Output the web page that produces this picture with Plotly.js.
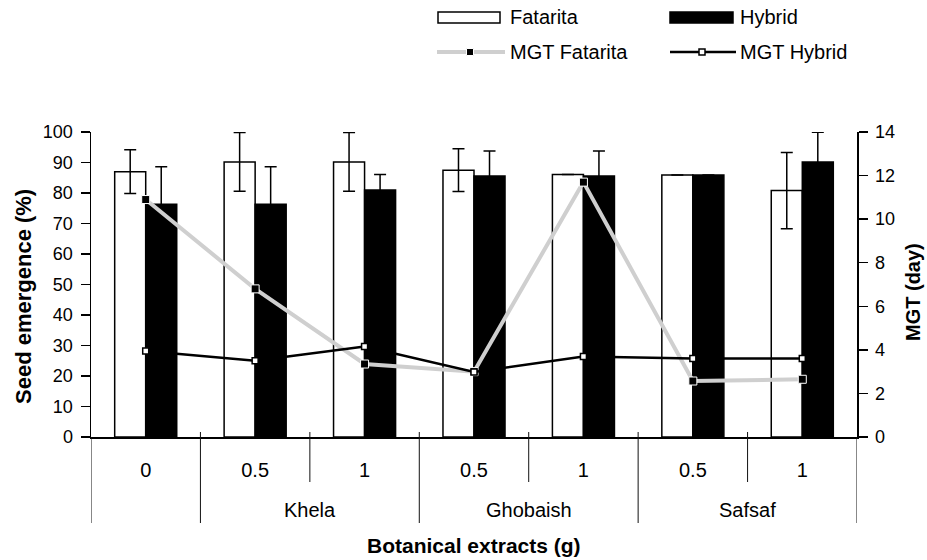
<!DOCTYPE html>
<html><head><meta charset="utf-8">
<script src="https://cdn.plot.ly/plotly-3.0.1.min.js"></script>
<style>html,body{margin:0;padding:0;background:#fff}#chart{width:927px;height:560px}</style>
</head><body><div id="chart"></div>
<script>
// ---- data ----
const positions = [0, 1, 2, 3, 4, 5, 6];
const doseLabels = ['0', '0.5', '1', '0.5', '1', '0.5', '1'];
const extractGroups = ['Khela', 'Ghobaish', 'Safsaf'];
const groupCenters = [1.5, 3.5, 5.5];
const subBoundaries = [1.5, 3.5, 5.5];
const groupBoundaries = [0.5, 2.5, 4.5];
const edgeBoundaries = [-0.5, 6.5];
const fatarita = [87.0, 90.2, 90.2, 87.5, 86.1, 85.9, 80.8];
const fataritaErr = [7.2, 9.6, 9.6, 7.0, 0, 0, 12.5];
const hybrid = [76.3, 76.3, 81.0, 85.6, 85.6, 85.9, 90.2];
const hybridErr = [12.3, 12.3, 5.1, 8.2, 8.2, 0, 9.7];
const mgtFatarita = [10.9, 6.8, 3.35, 3.0, 11.7, 2.57, 2.65];
const mgtHybrid = [3.95, 3.5, 4.15, 2.98, 3.7, 3.6, 3.6];
const yTicksLeft = [0, 10, 20, 30, 40, 50, 60, 70, 80, 90, 100];
const yTicksRight = [0, 2, 4, 6, 8, 10, 12, 14];

const FONT = 'Liberation Sans, Arial, sans-serif';
const L = 91, R = 70, T = 132, B = 123, W = 927, H = 560;
const PW = W - L - R, PH = H - T - B;
const px = v => (v - L) / PW;          // page px -> paper x
const py = v => (H - B - v) / PH;      // page px -> paper y
const MGTF_COLOR = '#cfcfcf';

const traces = [
  {type: 'bar', name: 'Fatarita', x: positions, y: fatarita,
   marker: {color: '#ffffff', line: {color: '#000', width: 1.5}},
   error_y: {type: 'data', array: fataritaErr, visible: true, color: '#000', thickness: 1.5, width: 6}},
  {type: 'bar', name: 'Hybrid', x: positions, y: hybrid,
   marker: {color: '#000000', line: {color: '#000', width: 1.5}},
   error_y: {type: 'data', array: hybridErr, visible: true, color: '#000', thickness: 1.5, width: 6}},
  {type: 'scatter', mode: 'lines+markers', name: 'MGT Fatarita', x: positions, y: mgtFatarita, yaxis: 'y2',
   line: {color: MGTF_COLOR, width: 4},
   marker: {symbol: 'square', size: 8, color: '#000', line: {color: '#fff', width: 1}}},
  {type: 'scatter', mode: 'lines+markers', name: 'MGT Hybrid', x: positions, y: mgtHybrid, yaxis: 'y2',
   line: {color: '#000', width: 2.5},
   marker: {symbol: 'square', size: 6, color: '#fff', line: {color: '#000', width: 1.5}}}
];

const shapes = [];
subBoundaries.forEach(b => shapes.push({type: 'line', xref: 'x', yref: 'paper', x0: b, x1: b,
  y0: py(432), y1: py(482), line: {color: '#111', width: 1}}));
groupBoundaries.forEach(b => shapes.push({type: 'line', xref: 'x', yref: 'paper', x0: b, x1: b,
  y0: py(432), y1: py(523), line: {color: '#111', width: 1}}));
edgeBoundaries.forEach(b => shapes.push({type: 'line', xref: 'x', yref: 'paper', x0: b, x1: b,
  y0: 0, y1: py(523), line: {color: '#111', width: 1}}));

// legend (drawn manually)
shapes.push({type: 'rect', xref: 'paper', yref: 'paper', x0: px(438), x1: px(500), y0: py(23), y1: py(12),
  fillcolor: '#fff', line: {color: '#000', width: 1.5}});
shapes.push({type: 'rect', xref: 'paper', yref: 'paper', x0: px(670), x1: px(733), y0: py(23), y1: py(12),
  fillcolor: '#000', line: {color: '#000', width: 1.5}});
shapes.push({type: 'line', xref: 'paper', yref: 'paper', x0: px(437), x1: px(505), y0: py(52), y1: py(52),
  line: {color: MGTF_COLOR, width: 4}});
shapes.push({type: 'rect', xref: 'paper', yref: 'paper', x0: px(466.5), x1: px(473.5), y0: py(55.5), y1: py(48.5),
  fillcolor: '#000', line: {color: '#fff', width: 1}});
shapes.push({type: 'line', xref: 'paper', yref: 'paper', x0: px(670), x1: px(736), y0: py(52), y1: py(52),
  line: {color: '#000', width: 2.5}});
shapes.push({type: 'rect', xref: 'paper', yref: 'paper', x0: px(699), x1: px(705), y0: py(55), y1: py(49),
  fillcolor: '#fff', line: {color: '#000', width: 1.5}});

const annotations = [];
extractGroups.forEach((g, i) => annotations.push({xref: 'x', yref: 'paper', x: groupCenters[i], y: py(510),
  text: g, showarrow: false, xanchor: 'center', yanchor: 'middle', font: {family: FONT, size: 20, color: '#000'}}));
const legendItems = [['Fatarita', 508, 17], ['Hybrid', 738, 17], ['MGT Fatarita', 508, 52], ['MGT Hybrid', 738, 52]];
legendItems.forEach(([t, x, y]) => annotations.push({xref: 'paper', yref: 'paper', x: px(x), y: py(y), text: t,
  showarrow: false, xanchor: 'left', yanchor: 'middle', font: {family: FONT, size: 20, color: '#000'}}));
annotations.push({xref: 'paper', yref: 'paper', x: 0.5, y: py(545), text: '<b>Botanical extracts (g)</b>',
  showarrow: false, xanchor: 'center', yanchor: 'middle', font: {family: FONT, size: 21, color: '#000'}});
annotations.push({xref: 'paper', yref: 'paper', x: px(23), y: py(297), text: '<b>Seed emergence (%)</b>', textangle: -90,
  showarrow: false, xanchor: 'center', yanchor: 'middle', font: {family: FONT, size: 22, color: '#000'}});
annotations.push({xref: 'paper', yref: 'paper', x: px(913), y: py(292), text: '<b>MGT (day)</b>', textangle: -90,
  showarrow: false, xanchor: 'center', yanchor: 'middle', font: {family: FONT, size: 20, color: '#000'}});

const baseY = {showgrid: false, zeroline: false, showline: true, linecolor: '#000', linewidth: 1.5,
  ticks: 'outside', ticklen: 9, tickwidth: 1.5, tickcolor: '#000', ticklabelstandoff: 4,
  tickfont: {family: FONT, size: 18, color: '#000'}};

const layout = {
  width: W, height: H, margin: {l: L, r: R, t: T, b: B, pad: 0},
  paper_bgcolor: '#fff', plot_bgcolor: '#fff', showlegend: false,
  barmode: 'group', bargap: 0.433, bargroupgap: 0,
  font: {family: FONT, color: '#000'},
  xaxis: {range: [-0.5, 6.5], tickvals: positions, ticktext: doseLabels, ticks: 'outside', ticklen: 14,
    tickcolor: 'rgba(0,0,0,0)', showline: true, linecolor: '#000', linewidth: 1.5, showgrid: false, zeroline: false,
    tickfont: {family: FONT, size: 20, color: '#000'}},
  yaxis: Object.assign({}, baseY, {range: [0, 100], tickvals: yTicksLeft}),
  yaxis2: Object.assign({}, baseY, {range: [0, 14], tickvals: yTicksRight, overlaying: 'y', side: 'right'}),
  yaxis3: {range: [0, 100], tickvals: yTicksLeft, overlaying: 'y', anchor: 'x', side: 'left', ticks: 'inside', ticklen: 6,
    tickwidth: 1.5, tickcolor: '#000', showticklabels: false, showline: false, showgrid: false, zeroline: false},
  yaxis4: {range: [0, 14], tickvals: yTicksRight, overlaying: 'y', anchor: 'x', side: 'right', ticks: 'inside', ticklen: 6,
    tickwidth: 1.5, tickcolor: '#000', showticklabels: false, showline: false, showgrid: false, zeroline: false},
  shapes: shapes,
  annotations: annotations
};

Plotly.newPlot('chart', traces, layout, {displayModeBar: false, staticPlot: true});
</script>
</body></html>
